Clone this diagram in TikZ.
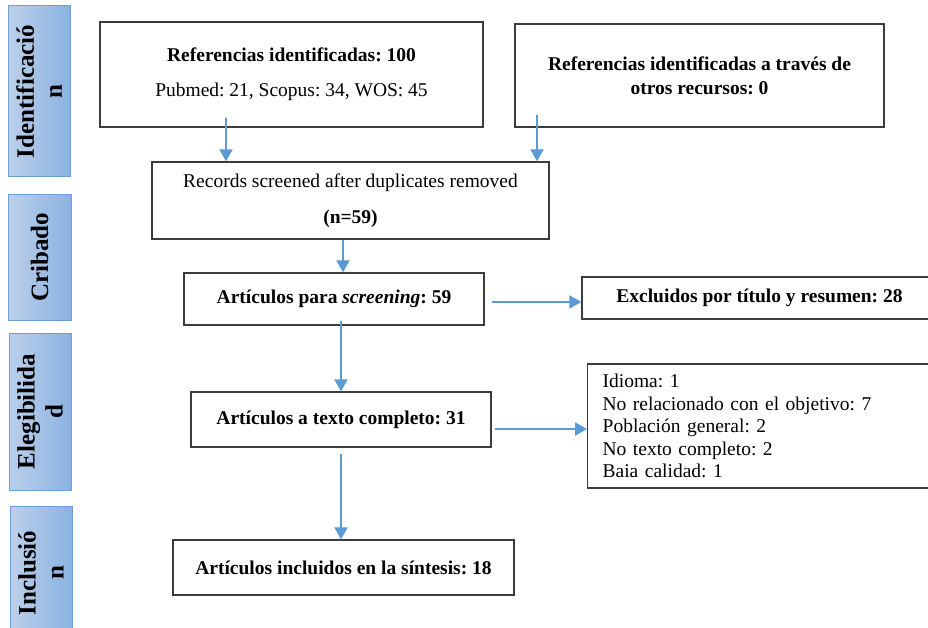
\documentclass[tikz,border=0pt]{standalone}
\usepackage{fontspec}
\setmainfont{Liberation Serif}
\frenchspacing
\usetikzlibrary{arrows.meta,calc}
\definecolor{arrblue}{RGB}{91,155,213}
\definecolor{boxgray}{RGB}{60,60,60}
\definecolor{bandL}{RGB}{188,208,234}
\definecolor{bandR}{RGB}{138,178,226}
\definecolor{bandB}{RGB}{112,158,216}
\tikzset{
  box/.style={draw=boxgray, line width=1.3pt, fill=white, align=center, inner sep=0pt,
    font=\fontsize{19.5}{23.5}\selectfont},
  band/.style={draw=bandB, line width=1pt, left color=bandL, right color=bandR, inner sep=0pt},
  bandtext/.style={rotate=90, align=center, inner sep=0pt,
    font=\fontsize{25}{28}\selectfont\bfseries},
  arr/.style={draw=arrblue, line width=2pt, -{Triangle[width=13pt,length=12pt]}}
}
\begin{document}
\begin{tikzpicture}[x=1pt,y=-1pt]
\clip (0,0) rectangle (928,628);
\fill[white] (0,0) rectangle (928,628);
% bands
\node[band, minimum height=171pt, minimum width=62pt] (b1) at (39,91.5) {};
\node[bandtext] (t1) at (b1) {Identificació\\n};
\node[band, minimum height=125pt, minimum width=63pt] (b2) at (39.5,257.5) {};
\node[bandtext] (t2) at (b2) {Cribado};
\node[band, minimum height=157pt, minimum width=62pt] (b3) at (40,411.5) {};
\node[bandtext] (t3) at (b3) {Elegibilida\\d};
\node[band, minimum height=134pt, minimum width=62pt] (b4) at (41,573) {};
\node[bandtext] (t4) at (b4) {Inclusió\\n};
% boxes
\node[box, minimum width=383pt, minimum height=105pt] (A) at (291.5,74.5)
  {\textbf{Referencias identificadas: 100}\\[11.5pt]Pubmed: 21, Scopus: 34, WOS: 45};
\node[box, minimum width=369pt, minimum height=103pt, font=\fontsize{19.5}{24}\selectfont\bfseries] (B) at (699.5,75.5)
  {Referencias identificadas a través de\\otros recursos: 0};
\node[box, minimum width=397pt, minimum height=77pt] (C) at (350.5,200.5)
  {Records screened after duplicates removed\\[12.5pt]\textbf{(n=59)}};
\node[box, minimum width=300pt, minimum height=52pt] (D) at (334,299)
  {\textbf{Artículos para \textit{screening}: 59}};
\node[box, minimum width=300pt, minimum height=55pt] (E) at (341,419.5)
  {\textbf{Artículos a texto completo: 31}};
\node[box, minimum width=355pt, minimum height=42pt] (F) at (759.5,298)
  {\textbf{Excluidos por título y resumen: 28}};
\node[box, anchor=west, minimum height=124pt, text width=360pt, inner xsep=15pt, align=left,
  font=\fontsize{19.5}{22.5}\selectfont] (G) at (587,426)
  {Idioma: 1\\No relacionado con el objetivo: 7\\Población general: 2\\No texto completo: 2\\Baia calidad: 1};
\node[box, minimum width=341pt, minimum height=55pt] (H) at (343.5,567.5)
  {\textbf{Artículos incluidos en la síntesis: 18}};
% connectors
\coordinate (a1) at ([xshift=-65.5pt]A.south);
\draw[arr] ([yshift=10pt]a1) -- (a1 |- C.north);
\coordinate (b1s) at ([xshift=-162.5pt]B.south);
\draw[arr] ([yshift=13pt]b1s) -- (b1s |- C.north);
\coordinate (c1) at ([xshift=-7.5pt]C.south);
\draw[arr] (c1) -- (c1 |- D.north);
\coordinate (d1) at ([xshift=7pt]D.south);
\draw[arr] ([yshift=5pt]d1) -- (d1 |- E.north);
\coordinate (e1) at (E.south);
\draw[arr] ([yshift=-6pt]e1) -- (e1 |- H.north);
\coordinate (d2) at ([xshift=7pt,yshift=-3pt]D.east);
\draw[arr] (d2) -- (d2 -| F.west);
\coordinate (e2) at ([xshift=3pt,yshift=-9.5pt]E.east);
\draw[arr] (e2) -- (e2 -| G.west);
\end{tikzpicture}
\end{document}
